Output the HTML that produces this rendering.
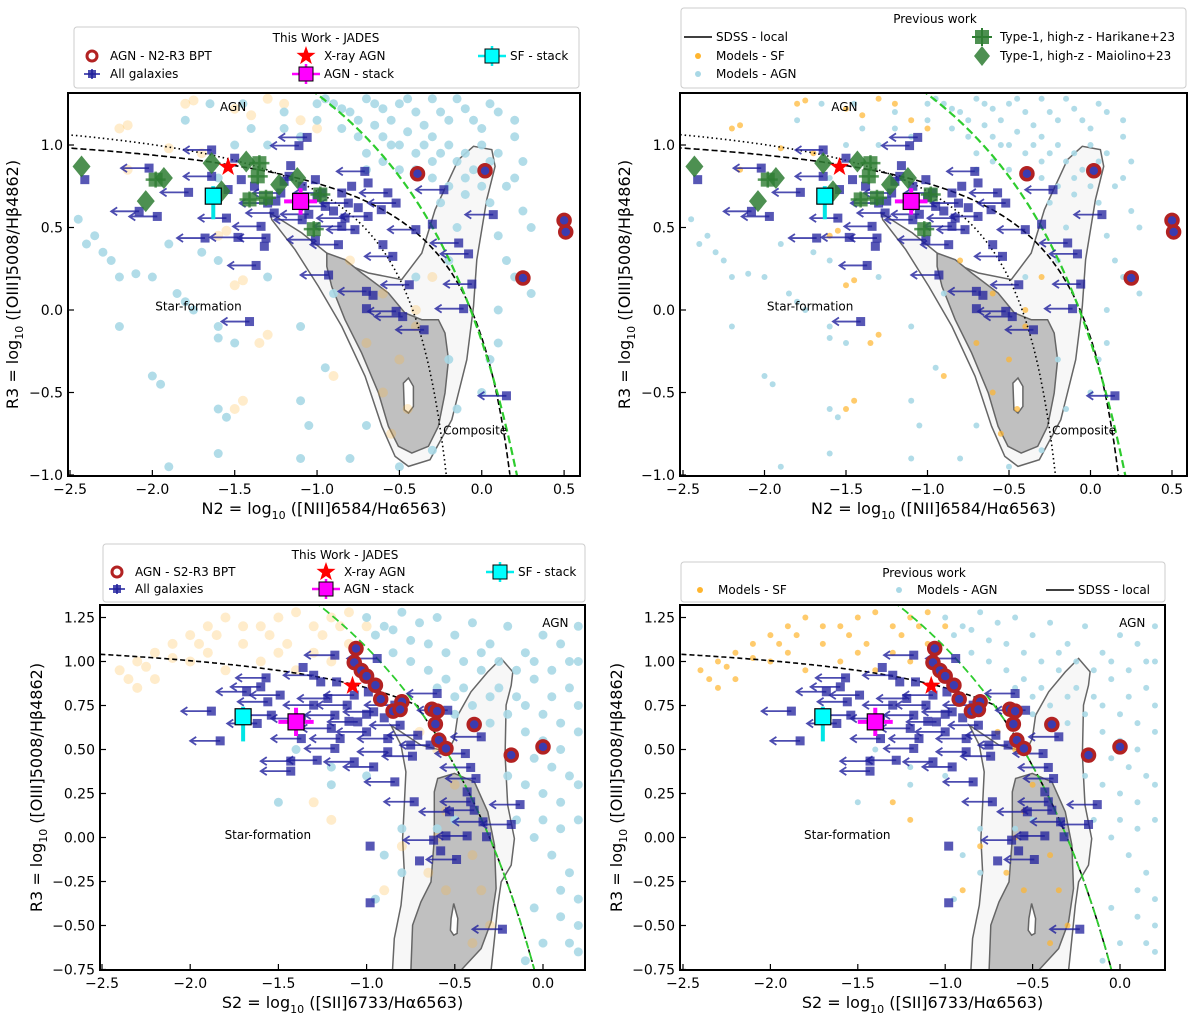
<!DOCTYPE html>
<html><head><meta charset="utf-8">
<style>
html,body{margin:0;padding:0;background:#fff;}
svg{display:block;font-family:"DejaVu Sans","Liberation Sans",sans-serif;}
</style></head>
<body>
<svg id="fig" width="1200" height="1015" viewBox="0 0 1200 1015" xmlns="http://www.w3.org/2000/svg"></svg>
<script>
// ---------- DATA ----------
const n2GalX = [-1.06,-1.11,-1.64,-2.02,-2.41,-1.16,-1.5,-1.78,-1.97,-2.08,-1.55,-1.68,-1.48,-1.31,-1.37,-1.41,-0.93,-0.71,-0.57,-0.52,-0.23,-0.40,-0.30,0.07,-0.14,-0.08,-0.06,-0.44,-0.11,-0.52,-0.48,-0.35,-0.70,-0.66,-0.70,0.15,-0.54,-0.60,-0.87,-1.01,-0.77,-0.83,-0.69,-0.81,-0.97,-1.01,-1.22,-1.3,-1.38,-1.26,-1.09,-0.95,-1.17,-1.46,-1.64,-1.34,-0.69,-0.79,-0.61,-1.32,-0.85,-1.09,-1.54,-0.85,-1.2,-1.0,-0.9,-1.25,-0.75,-1.05];
const n2GalY = [1.046,0.996,0.97,0.86,0.79,0.875,0.92,0.713,0.567,0.598,0.557,0.436,0.44,0.436,0.27,-0.07,0.212,0.84,0.71,0.648,0.729,0.487,0.52,0.578,0.406,0.34,0.157,0.153,0.008,-0.008,-0.04,-0.12,0.113,0.089,0.008,-0.52,0.325,0.396,0.396,0.426,0.487,0.557,0.567,0.648,0.709,0.79,0.709,0.648,0.75,0.588,0.547,0.628,0.81,0.79,0.81,0.507,0.77,0.75,0.608,0.386,0.507,0.75,0.73,0.709,0.78,0.68,0.6,0.66,0.62,0.58];
const n2GalLim = [1,1,1,1,0,0,0,1,1,1,1,1,1,1,1,1,1,1,1,1,1,1,0,1,1,1,1,1,1,1,1,1,1,0,0,1,1,0,1,1,1,1,1,1,1,0,1,1,0,1,1,1,0,0,1,1,0,0,0,0,1,0,0,0,0,0,0,0,0,1];
const n2AgnX = [-0.39,0.02,0.5,0.51,0.25];
const n2AgnY = [0.826,0.844,0.543,0.473,0.194];
const n2Xray = [-1.54,0.867];
const n2AgnStack = [-1.10,0.658];
const n2SfStack = [-1.63,0.69];
const hkX = [-1.98,-1.35,-1.36,-1.41,-1.31,-1.02,-0.98];
const hkY = [0.79,0.89,0.81,0.67,0.68,0.49,0.70];
const mlX = [-2.43,-2.04,-1.93,-1.64,-1.58,-1.23,-1.12,-1.43];
const mlY = [0.87,0.66,0.80,0.89,0.72,0.76,0.80,0.90];
const n2ModAgnX = [-0.9,-0.8,-0.7,-0.6,-0.5,-0.4,-0.3,-0.2,-0.1,0.0,0.1,0.2,-0.85,-0.75,-0.65,-0.55,-0.45,-0.35,-0.25,-0.15,-0.05,0.1,0.25,-0.6,-0.5,-0.4,-0.3,-0.2,-0.1,0.05,0.15,-0.7,-1.0,-1.1,-1.2,-1.3,-1.4,-1.5,-1.65,-1.8,-1.6,-2.45,-2.4,-2.3,-2.25,-2.2,-2.35,-2.1,-2.0,-1.85,-1.8,-1.75,-1.7,-1.6,-1.9,-2.2,-2.0,-1.95,-1.6,-1.55,-1.6,-1.6,-1.5,-1.9,-1.6,-1.1,-1.05,-1.1,-0.95,-0.7,-0.8,-0.5,-0.3,-0.15,0.0,0.1,-1.3,-1.1,-0.9,-0.4,-0.2,-0.15,0.15,0.3,0.3,
  -0.95,-0.85,-0.75,-0.65,-0.55,-0.45,-0.35,-0.25,-0.15,-0.05,0.05,-0.6,-0.5,-0.3,-0.2,-0.1,0.0,0.2,-0.7,-0.4,-0.3,-0.1,0.05,0.2,-0.25,0.0,0.25,0.1,0.2,0.1,0.05,-0.2,-1.0,-1.2,-1.45];
const n2ModAgnY = [1.25,1.2,1.28,1.22,1.25,1.2,1.28,1.15,1.22,1.1,1.2,1.05,1.1,1.05,1.12,1.0,1.08,1.0,0.95,0.9,0.85,0.95,0.9,0.9,0.85,0.95,0.8,0.75,0.7,0.65,0.75,0.95,1.15,1.05,1.2,1.0,1.1,1.0,1.25,1.15,0.8,0.55,0.4,0.35,0.3,0.2,0.45,0.22,0.2,0.1,0.05,0.0,0.35,0.3,0.4,-0.1,-0.4,-0.45,-0.6,-0.65,-0.1,-0.17,-0.2,-0.95,-0.87,-0.55,-0.7,-0.9,-0.35,-0.7,-0.9,-0.95,-0.85,-0.6,-0.5,-0.2,0.2,-0.1,0.1,0.2,0.3,0.5,0.3,0.5,0.1,
  1.28,1.22,1.15,1.25,1.15,1.28,1.12,1.2,1.28,1.15,1.25,1.05,1.0,1.05,1.0,0.95,1.0,1.15,0.85,0.85,0.9,0.8,0.9,0.8,0.65,0.75,0.6,0.45,0.2,0.0,-0.3,-0.3,1.25,1.1,1.25];
const n2ModSfX = [-2.2,-2.15,-1.8,-1.75,-1.5,-1.4,-1.3,-1.2,-1.1,-1.0,-1.9,-1.7,-2.15,-1.6,-1.55,-1.45,-1.5,-1.3,-1.35,-1.45,-1.5,-0.8,-0.6,-0.7,-0.5,-0.6,-0.45,-0.4,-0.3,-0.9,-0.4,-0.55];
const n2ModSfY = [1.1,1.12,1.25,1.27,1.22,1.18,1.28,1.25,1.15,1.1,0.98,0.95,0.85,0.45,0.48,0.18,0.15,-0.15,-0.2,-0.55,-0.6,0.3,0.1,-0.2,-0.3,-0.5,-0.6,-0.1,0.2,-0.4,0.0,-0.75];
const n2OuterX = [-1.285,-1.093,-0.891,-0.688,-0.486,-0.364,-0.283,-0.142,-0.05,0.061,0.081,0.03,-0.03,-0.05,-0.091,-0.182,-0.314,-0.445,-0.526,-0.607,-0.708,-0.85,-0.992,-1.134,-1.275];
const n2OuterY = [0.588,0.467,0.305,0.224,0.184,0.345,0.608,0.911,0.992,0.972,0.871,0.668,0.305,0.022,-0.301,-0.665,-0.907,-0.948,-0.887,-0.705,-0.402,-0.1,0.143,0.366,0.547];
const n2InnerX = [-0.941,-0.83,-0.729,-0.567,-0.466,-0.364,-0.263,-0.223,-0.202,-0.223,-0.263,-0.324,-0.425,-0.506,-0.567,-0.627,-0.729,-0.83,-0.911,-0.941];
const n2InnerY = [0.345,0.305,0.224,0.103,-0.018,-0.059,-0.059,-0.14,-0.301,-0.503,-0.705,-0.826,-0.867,-0.826,-0.705,-0.503,-0.261,-0.059,0.143,0.264];
const n2HoleX = [-0.476,-0.445,-0.415,-0.415,-0.445,-0.47];
const n2HoleY = [-0.443,-0.412,-0.463,-0.584,-0.624,-0.604];

const s2GalX = [-1.18,-0.94,-1.36,-1.57,-1.60,-1.88,-1.83,-1.62,-1.43,-1.28,-1.43,-0.60,-0.54,-0.35,-0.44,-0.74,-0.84,-0.73,-0.13,-0.41,-0.53,-0.39,-0.34,-0.18,-0.62,-0.55,-0.43,-0.32,-0.58,-0.49,-0.70,-0.98,-0.98,-0.23,-0.43,-0.38,-0.41,-0.96,-1.07,-1.18,-1.37,-1.15,-1.0,-0.88,-0.81,-0.71,-0.84,-0.96,-1.11,-1.22,-1.30,-1.37,-1.26,-1.17,-1.30,-1.07,-0.99,-1.18,-1.05,-1.56,-1.68,-1.54,-1.49,-0.88,-0.64,-0.75,-1.1,-1.0,-0.9,-1.2];
const s2GalY = [1.036,1.017,0.966,0.907,0.856,0.718,0.549,0.648,0.434,0.439,0.377,0.818,0.723,0.572,0.477,0.462,0.316,0.203,0.187,0.203,0.146,0.155,0.089,0.074,-0.015,0.009,0.009,0.004,-0.076,-0.125,-0.133,-0.049,-0.371,-0.521,0.259,0.335,0.398,0.401,0.43,0.506,0.562,0.562,0.6,0.562,0.638,0.581,0.752,0.714,0.752,0.79,0.752,0.676,0.884,0.884,0.922,0.809,0.827,0.695,0.657,0.771,0.828,0.695,0.809,0.487,0.525,0.525,0.66,0.7,0.68,0.62];
const s2GalLim = [1,1,0,1,1,1,1,1,1,1,1,1,1,1,1,1,1,1,1,1,1,1,1,1,1,0,1,0,0,1,0,0,0,1,0,1,1,1,1,1,1,1,1,1,1,1,1,1,1,1,1,1,0,0,1,1,0,1,1,1,1,1,1,1,1,0,0,0,0,1];
const s2AgnX = [-1.06,-1.07,-1.03,-1.0,-0.95,-0.92,-0.80,-0.85,-0.81,-0.63,-0.60,-0.61,-0.39,-0.59,-0.55,-0.18,0.0];
const s2AgnY = [1.074,0.994,0.949,0.917,0.865,0.786,0.771,0.718,0.727,0.729,0.718,0.644,0.642,0.553,0.506,0.468,0.515];
const s2Xray = [-1.08,0.862];
const s2AgnStack = [-1.40,0.657];
const s2SfStack = [-1.70,0.686];
const s2ModAgnX = [-1.0,-0.9,-0.8,-0.7,-0.6,-0.5,-0.4,-0.3,-0.2,-0.1,0.0,0.1,0.2,-0.85,-0.75,-0.65,-0.55,-0.45,-0.35,-0.25,-0.15,-0.05,0.05,0.15,-0.5,-0.4,-0.3,-0.1,0.0,0.1,0.2,-0.2,-0.1,0.0,0.1,0.2,-0.15,-0.05,0.05,0.15,0.2,0.1,0.0,0.2,-0.1,-0.5,-0.6,-0.8,-1.0,-1.2,-1.4,-1.5,-1.2,-0.95,-0.8,-0.9,
  -0.95,-0.85,-0.75,-0.65,-0.55,-0.45,-0.35,-0.25,-0.15,-0.05,0.05,0.15,0.2,-0.6,-0.5,-0.4,-0.3,-0.2,-0.1,0.0,0.1,0.2,-0.05,0.05,0.15,0.2,0.1,0.0,0.2,0.15,0.1,-0.05];
const s2ModAgnY = [1.25,1.2,1.28,1.22,1.25,1.15,1.22,1.1,1.2,1.05,1.15,1.1,1.0,1.05,1.0,0.95,0.9,0.85,0.95,0.85,0.8,0.9,0.8,0.85,0.7,0.75,0.65,0.6,0.55,0.5,0.6,0.35,0.3,0.25,0.2,0.3,0.1,0.0,-0.1,-0.2,-0.35,-0.45,-0.6,-0.65,-0.7,0.1,0.05,0.05,0.35,0.4,0.5,0.2,0.3,-0.35,-0.2,-0.1,
  1.15,1.18,1.12,1.1,1.05,1.0,1.05,1.0,0.95,1.0,0.95,1.0,1.2,0.85,0.8,0.65,0.8,0.7,0.75,0.7,0.65,0.75,0.45,0.4,0.35,0.1,0.05,0.1,-0.5,-0.6,-0.3,-0.4];
const s2ModSfX = [-2.4,-2.3,-2.2,-2.1,-2.0,-1.9,-1.8,-2.3,-2.2,-2.0,-1.9,-1.7,-1.6,-1.5,-1.4,-1.8,-1.6,-1.5,-1.3,-1.2,-1.1,-1.4,-1.2,-1.1,-1.0,-0.7,-0.6,-0.5,-0.55,-0.6,-0.65,-0.55,-0.4,-0.35,-0.3,-0.4,-0.8,-0.9,-1.2,-1.3,
  -2.35,-2.25,-2.1,-1.95,-1.85,-1.7,-1.55,-1.45,-1.3,-1.25,-1.15];
const s2ModSfY = [0.95,1.0,1.05,1.1,1.15,1.2,1.25,0.85,0.9,1.0,1.05,1.1,1.2,1.25,1.28,0.95,1.0,1.05,1.2,1.25,1.28,0.95,1.0,1.1,1.2,0.6,0.5,0.3,0.15,0.0,-0.2,-0.3,-0.1,-0.3,-0.5,-0.6,-0.05,-0.3,0.1,0.2,
  0.9,0.97,1.02,1.1,1.15,1.2,1.15,1.1,1.05,1.15,1.2];
const s2OuterX = [-0.853,-0.843,-0.805,-0.786,-0.796,-0.786,-0.777,-0.805,-0.862,-0.805,-0.692,-0.54,-0.502,-0.483,-0.408,-0.313,-0.237,-0.171,-0.18,-0.209,-0.215,-0.2,-0.162,-0.18,-0.237,-0.256,-0.275,-0.294];
const s2OuterY = [-0.754,-0.574,-0.385,-0.195,-0.006,0.184,0.373,0.525,0.638,0.6,0.525,0.487,0.562,0.695,0.828,0.941,1.017,0.941,0.865,0.752,0.468,0.184,-0.006,-0.157,-0.252,-0.385,-0.574,-0.754];
const s2InnerX = [-0.749,-0.739,-0.692,-0.635,-0.616,-0.616,-0.597,-0.502,-0.389,-0.313,-0.275,-0.266,-0.294,-0.351,-0.465];
const s2InnerY = [-0.754,-0.498,-0.366,-0.252,-0.006,0.259,0.335,0.364,0.316,0.146,-0.044,-0.29,-0.479,-0.631,-0.754];
const s2HoleX = [-0.521,-0.506,-0.483,-0.487,-0.506,-0.525];
const s2HoleY = [-0.46,-0.375,-0.46,-0.545,-0.555,-0.527];

const n2Ticks = [-2.5,-2.0,-1.5,-1.0,-0.5,0.0,0.5];
const n2TickLabels = ["\u22122.5","\u22122.0","\u22121.5","\u22121.0","\u22120.5","0.0","0.5"];
const r3TicksTop = [-1.0,-0.5,0.0,0.5,1.0];
const r3TickLabelsTop = ["\u22121.0","\u22120.5","0.0","0.5","1.0"];
const s2Ticks = [-2.5,-2.0,-1.5,-1.0,-0.5,0.0];
const s2TickLabels = ["\u22122.5","\u22122.0","\u22121.5","\u22121.0","\u22120.5","0.0"];
const r3TicksBot = [-0.75,-0.5,-0.25,0,0.25,0.5,0.75,1.0,1.25];
const r3TickLabelsBot = ["\u22120.75","\u22120.50","\u22120.25","0.00","0.25","0.50","0.75","1.00","1.25"];

// ---------- HELPERS ----------
const NS = "http://www.w3.org/2000/svg";
const svg = document.getElementById('fig');
function mk(tag, attrs, parent){
  const e = document.createElementNS(NS, tag);
  for (const k in attrs) e.setAttribute(k, attrs[k]);
  (parent||svg).appendChild(e);
  return e;
}
function txt(s, x, y, size, parent, anchor){
  const t = mk('text',{x:x,y:y,'font-size':size,'text-anchor':anchor||'start',fill:'#000'},parent);
  t.textContent = s;
  return t;
}
const NAVY = '#1f1f9c';

function makePanel(id, box, X, Y, cfg){
  const g = mk('g',{});
  
  
  const cp = mk('clipPath',{id:'clip-'+id}, g);
  mk('rect',{x:box.l,y:box.t,width:box.r-box.l,height:box.b-box.t},cp);
  const pg = mk('g',{'clip-path':'url(#clip-'+id+')'},g);
  
  

  function poly(xs, ys, fill, name){
    let d = xs.map((v,i)=>(i?'L':'M')+X(v).toFixed(1)+','+Y(ys[i]).toFixed(1)).join(' ')+'Z';
    const p = mk('path',{d:d,fill:fill,stroke:'#666','stroke-width':1.5},pg);
    
    
  }
  poly(cfg.outerX, cfg.outerY, '#f7f7f7', 'sdss-contour-outer');
  poly(cfg.innerX, cfg.innerY, '#c0c0c0', 'sdss-contour-inner');
  poly(cfg.holeX, cfg.holeY, '#ffffff', 'sdss-contour-hole');

  for (let i=0;i<cfg.sfX.length;i++){
    const c = mk('circle',{cx:X(cfg.sfX[i]),cy:Y(cfg.sfY[i]),r:cfg.faint?5:3,fill:'#ffb52e','fill-opacity':cfg.faint?0.25:0.7},pg);
    
    
  }
  for (let i=0;i<cfg.agnX.length;i++){
    const c = mk('circle',{cx:X(cfg.agnX[i]),cy:Y(cfg.agnY[i]),r:cfg.faint?4.5:3,fill:'#a9d8e6','fill-opacity':0.9},pg);
    
    
  }

  function curve(fn, x0, x1, attrs, name){
    let d=''; const n=200;
    for(let i=0;i<=n;i++){const xv=x0+(x1-x0)*i/n; const yv=fn(xv); if(!isFinite(yv))continue; d+=(d?'L':'M')+X(xv).toFixed(1)+','+Y(yv).toFixed(1);}
    const p = mk('path',Object.assign({d:d,fill:'none'},attrs),pg);
    
    
  }
  cfg.lines(curve);

  for (let i=0;i<cfg.gX.length;i++){
    const cx=X(cfg.gX[i]), cy=Y(cfg.gY[i]);
    if (cfg.gL[i]){
      const ax = X(cfg.gX[i]-0.17);
      const a = mk('path',{d:`M${cx},${cy} L${ax},${cy} M${ax+6},${cy-4} L${ax},${cy} L${ax+6},${cy+4}`,stroke:NAVY,'stroke-width':1.8,fill:'none','stroke-opacity':0.8},pg);
      
      
    }
    const s = mk('rect',{x:cx-4.5,y:cy-4.5,width:9,height:9,fill:NAVY,'fill-opacity':0.75},pg);
    
    
  }
  if (cfg.hk){
    for (let i=0;i<hkX.length;i++){
      const cx=X(hkX[i]), cy=Y(hkY[i]);
      const s = mk('path',{d:`M${cx-10},${cy}L${cx+10},${cy}M${cx},${cy-8}L${cx},${cy+8}`,stroke:'#2e7d32','stroke-width':2.5,'stroke-opacity':0.8},pg);
      
      
      const r = mk('rect',{x:cx-7,y:cy-7,width:14,height:14,fill:'#2e7d32','fill-opacity':0.8},pg);
      
      
    }
    for (let i=0;i<mlX.length;i++){
      const cx=X(mlX[i]), cy=Y(mlY[i]);
      const r = mk('path',{d:`M${cx},${cy-11}L${cx+9},${cy}L${cx},${cy+11}L${cx-9},${cy}Z`,fill:'#2e7d32','fill-opacity':0.85},pg);
      
      
    }
  }
  for (let i=0;i<cfg.aX.length;i++){
    const c = mk('circle',{cx:X(cfg.aX[i]),cy:Y(cfg.aY[i]),r:6,fill:'#3b3bb0',stroke:'#b22222','stroke-width':3.5},pg);
    
    
  }
  {
    const sx=X(cfg.sf[0]), sy=Y(cfg.sf[1]);
    const e = mk('path',{d:`M${sx},${sy-10}L${sx},${Y(cfg.sf[1]-0.14)}`,stroke:'#00e5e5','stroke-width':4},pg);
    
    
    const r = mk('rect',{x:sx-8,y:sy-8,width:16,height:16,fill:'#00ffff',stroke:'#000','stroke-width':1.2},pg);
    
    
    const mx=X(cfg.ag[0]), my=Y(cfg.ag[1]);
    const e2 = mk('path',{d:`M${X(cfg.ag[0]-0.1)},${my}L${X(cfg.ag[0]+0.1)},${my}M${mx},${Y(cfg.ag[1]+0.08)}L${mx},${Y(cfg.ag[1]-0.08)}`,stroke:'#ff00ff','stroke-width':4},pg);
    
    
    const r2 = mk('rect',{x:mx-8,y:my-8,width:16,height:16,fill:'#ff00ff',stroke:'#000','stroke-width':1.2},pg);
    
    
    const px=X(cfg.xr[0]), py=Y(cfg.xr[1]);
    let d=''; for(let k=0;k<10;k++){const rr=k%2?4:10; const an=-Math.PI/2+k*Math.PI/5; d+=(k?'L':'M')+(px+rr*Math.cos(an)).toFixed(1)+','+(py+rr*Math.sin(an)).toFixed(1);} d+='Z';
    const st = mk('path',{d:d,fill:'#ff0000'},pg);
    
    
  }
  cfg.labels.forEach(L=>{
    const t = txt(L[0], X(L[1]), Y(L[2])+4, 12, g, 'middle');
    
    
  });
  const fr = mk('rect',{x:box.l,y:box.t,width:box.r-box.l,height:box.b-box.t,fill:'none',stroke:'#000','stroke-width':2},g);
  
  
  cfg.xt.forEach((v,i)=>{
    const x=X(v);
    const tk = mk('line',{x1:x,y1:box.b,x2:x,y2:box.b-6,stroke:'#000','stroke-width':1.2},g);
    
    
    const t = txt(cfg.xtl[i], x, box.b+18, 14, g, 'middle');
    
    
  });
  cfg.yt.forEach((v,i)=>{
    const y=Y(v);
    const tk = mk('line',{x1:box.l,y1:y,x2:box.l+6,y2:y,stroke:'#000','stroke-width':1.2},g);
    
    
    const t = txt(cfg.ytl[i], box.l-5, y+5, 14, g, 'end');
    
    
  });
  const xl = mk('text',{x:(box.l+box.r)/2,y:box.b+38,'font-size':16,'text-anchor':'middle'},g);
  
  
  xl.innerHTML = cfg.xlab;
  const ylx = box.l - (cfg.bottom?58:50), yly=(box.t+box.b)/2;
  const yl = mk('text',{x:ylx,y:yly,'font-size':16,'text-anchor':'middle',transform:`rotate(-90 ${ylx} ${yly})`},g);
  
  
  yl.innerHTML = 'R3 = log<tspan font-size="11" dy="5">10</tspan><tspan dy="-5"> ([OIII]5008/H</tspan>β4862)';
}

const n2Lines = curve=>{
  curve(x=>0.61/(x-0.05)+1.3, -2.6, -0.215, {stroke:'#000','stroke-width':1.6,'stroke-dasharray':'1.5,3'}, 'kauffmann-line');
  curve(x=>0.61/(x-0.45)+1.188, -2.6, 0.171, {stroke:'#000','stroke-width':1.6,'stroke-dasharray':'6,3'}, 'sdss-local-line');
  curve(x=>2.994/(x-1)+2.805, -1.1, 0.25, {stroke:'#2ecc2e','stroke-width':2.2,'stroke-dasharray':'8,4'}, 'kewley-line');
};
const s2Lines = curve=>{
  curve(x=>Math.min(0.461/(x-0.3)+1.205, x>-0.7?4.04/(x-1)+3.1:9), -2.6, -0.03, {stroke:'#000','stroke-width':1.6,'stroke-dasharray':'5,3'}, 'sdss-local-line');
  curve(x=>4.04/(x-1)+3.1, -1.3, -0.03, {stroke:'#2ecc2e','stroke-width':1.8,'stroke-dasharray':'8,4'}, 'kewley-line');
};
const n2XLab = 'N2 = log<tspan font-size="11" dy="5">10</tspan><tspan dy="-5"> ([NII]6584/H</tspan>α6563)';
const s2XLab = 'S2 = log<tspan font-size="11" dy="5">10</tspan><tspan dy="-5"> ([SII]6733/H</tspan>α6563)';

function cfgN2(faint){
  return {outerX:n2OuterX,outerY:n2OuterY,innerX:n2InnerX,innerY:n2InnerY,holeX:n2HoleX,holeY:n2HoleY,
   sfX:n2ModSfX,sfY:n2ModSfY,agnX:n2ModAgnX,agnY:n2ModAgnY,faint:faint,lines:n2Lines,
   gX:n2GalX,gY:n2GalY,gL:n2GalLim,aX:n2AgnX,aY:n2AgnY,sf:n2SfStack,ag:n2AgnStack,xr:n2Xray,hk:true,
   labels:[['AGN',-1.51,1.23],['Star-formation',-1.72,0.02],['Composite',-0.04,-0.73]],
   xt:n2Ticks,xtl:n2TickLabels,yt:r3TicksTop,ytl:r3TickLabelsTop,xlab:n2XLab,bottom:false};
}
function cfgS2(faint){
  return {outerX:s2OuterX,outerY:s2OuterY,innerX:s2InnerX,innerY:s2InnerY,holeX:s2HoleX,holeY:s2HoleY,
   sfX:s2ModSfX,sfY:s2ModSfY,agnX:s2ModAgnX,agnY:s2ModAgnY,faint:faint,lines:s2Lines,
   gX:s2GalX,gY:s2GalY,gL:s2GalLim,aX:s2AgnX,aY:s2AgnY,sf:s2SfStack,ag:s2AgnStack,xr:s2Xray,hk:false,
   labels:[['AGN',0.07,1.22],['Star-formation',-1.56,0.015]],
   xt:s2Ticks,xtl:s2TickLabels,yt:r3TicksBot,ytl:r3TickLabelsBot,xlab:s2XLab,bottom:true};
}
const yTop = v=>310-v*165;
const yBot = v=>837.5-v*176;
makePanel('panel-n2-jades',{l:68,t:93,r:580,b:476}, v=>70+(v+2.5)*164.7, yTop, cfgN2(true));
makePanel('panel-n2-previous',{l:680,t:93,r:1187,b:476}, v=>683+(v+2.5)*163, yTop, cfgN2(false));
makePanel('panel-s2-jades',{l:100,t:605,r:585,b:970}, v=>102+(v+2.5)*176.4, yBot, cfgS2(true));
makePanel('panel-s2-previous',{l:680,t:605,r:1165,b:970}, v=>683+(v+2.5)*174.8, yBot, cfgS2(false));

// ---------- LEGENDS ----------
function legendBox(name, x, y, w, h, title, tx, ty){
  const g = mk('g',{});
  
  
  mk('rect',{x:x,y:y,width:w,height:h,rx:3,fill:'#fff',stroke:'#ccc','stroke-width':1},g);
  const t = txt(title, tx, ty, 12, g, 'middle');
  
  
  return g;
}
function entry(g, kind, x, y, label){
  const e = mk('g',{},g);
  
  
  const cx=x+12, cy=y-4;
  if(kind==='agn') mk('circle',{cx:cx,cy:cy,r:5,fill:'#fff',stroke:'#b22222','stroke-width':3},e);
  if(kind==='gal'){ mk('path',{d:`M${cx-8},${cy}L${cx+8},${cy}M${cx},${cy-5}L${cx},${cy+5}`,stroke:NAVY,'stroke-width':1.5},e); mk('rect',{x:cx-4,y:cy-4,width:8,height:8,fill:NAVY,'fill-opacity':0.8},e);}
  if(kind==='star'){ let d=''; for(let k=0;k<10;k++){const rr=k%2?4:10; const an=-Math.PI/2+k*Math.PI/5; d+=(k?'L':'M')+(cx+rr*Math.cos(an)).toFixed(1)+','+(cy+rr*Math.sin(an)).toFixed(1);} mk('path',{d:d+'Z',fill:'#f00'},e);}
  if(kind==='agnstack'){ mk('path',{d:`M${cx-14},${cy}L${cx+14},${cy}M${cx},${cy-10}L${cx},${cy+10}`,stroke:'#f0f','stroke-width':2.5},e); mk('rect',{x:cx-7,y:cy-7,width:14,height:14,fill:'#f0f',stroke:'#000'},e);}
  if(kind==='sfstack'){ mk('path',{d:`M${cx-14},${cy}L${cx+14},${cy}M${cx},${cy-10}L${cx},${cy+10}`,stroke:'#0ee','stroke-width':2.5},e); mk('rect',{x:cx-7,y:cy-7,width:14,height:14,fill:'#0ff',stroke:'#000'},e);}
  if(kind==='sdss') mk('line',{x1:cx-14,y1:cy,x2:cx+14,y2:cy,stroke:'#000','stroke-width':1.5},e);
  if(kind==='msf') mk('circle',{cx:cx,cy:cy,r:3,fill:'#ffb52e'},e);
  if(kind==='magn') mk('circle',{cx:cx,cy:cy,r:3,fill:'#a9d8e6'},e);
  if(kind==='hk'){ mk('path',{d:`M${cx-10},${cy}L${cx+10},${cy}M${cx},${cy-9}L${cx},${cy+9}`,stroke:'#2e7d32','stroke-width':2},e); mk('rect',{x:cx-7,y:cy-7,width:14,height:14,fill:'#2e7d32','fill-opacity':0.85},e);}
  if(kind==='ml') mk('path',{d:`M${cx},${cy-10}L${cx+8},${cy}L${cx},${cy+10}L${cx-8},${cy}Z`,fill:'#2e7d32','fill-opacity':0.85},e);
  const t = txt(label, x+30, y, 12, e);
  
  
}
let L1 = legendBox('legend-n2-jades', 74, 27, 505, 61, 'This Work - JADES', 326, 42);
entry(L1,'agn',80,60,'AGN - N2-R3 BPT'); entry(L1,'gal',80,78,'All galaxies');
entry(L1,'star',294,60,'X-ray AGN'); entry(L1,'agnstack',294,78,'AGN - stack');
entry(L1,'sfstack',480,60,'SF - stack');
let L2 = legendBox('legend-n2-previous', 681, 8, 505, 80, 'Previous work', 935, 23);
entry(L2,'sdss',686,41,'SDSS - local'); entry(L2,'msf',686,60,'Models - SF'); entry(L2,'magn',686,78,'Models - AGN');
entry(L2,'hk',970,41,'Type-1, high-z - Harikane+23'); entry(L2,'ml',970,60,'Type-1, high-z - Maiolino+23');
let L3 = legendBox('legend-s2-jades', 103, 544, 482, 58, 'This Work - JADES', 345, 559);
entry(L3,'agn',105,576,'AGN - S2-R3 BPT'); entry(L3,'gal',105,593,'All galaxies');
entry(L3,'star',314,576,'X-ray AGN'); entry(L3,'agnstack',314,593,'AGN - stack');
entry(L3,'sfstack',488,576,'SF - stack');
let L4 = legendBox('legend-s2-previous', 681, 562, 484, 40, 'Previous work', 924, 577);
entry(L4,'msf',688,594,'Models - SF'); entry(L4,'magn',887,594,'Models - AGN'); entry(L4,'sdss',1048,594,'SDSS - local');
</script>
</body></html>
